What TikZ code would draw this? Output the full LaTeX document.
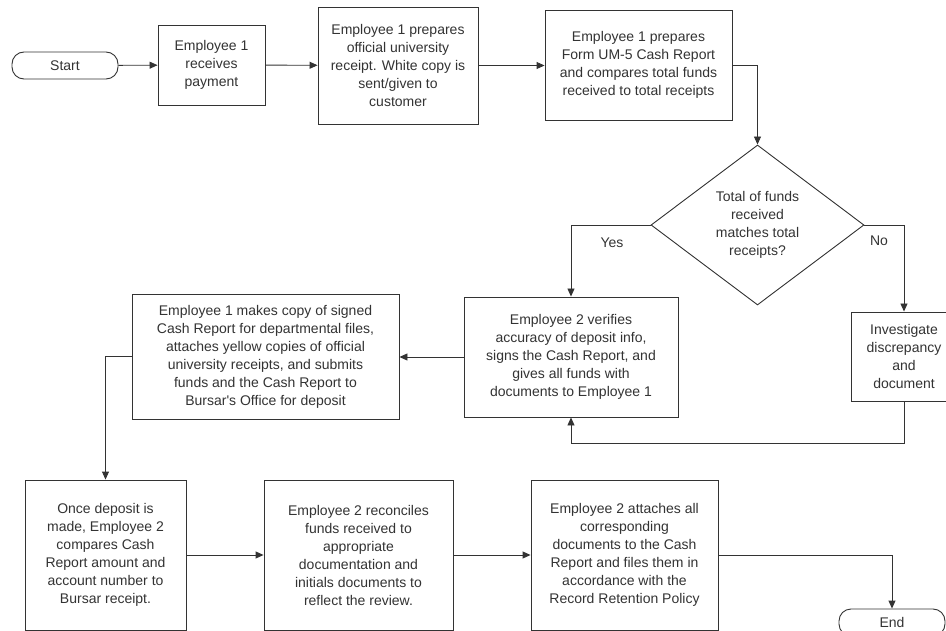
\documentclass[tikz,border=0pt]{standalone}
\usepackage{fontspec}
\setmainfont{Liberation Sans}
\usepackage{xcolor}
\usepackage{tikz}
\usetikzlibrary{arrows.meta,positioning,shapes.geometric}
\definecolor{inkgray}{HTML}{333333}

\begin{document}
\begin{tikzpicture}[
  x=1pt,y=-1pt,
  every node/.style={font=\fontsize{14}{18}\selectfont,text=inkgray,align=center,inner sep=0pt},
  stepbox/.style={rectangle,draw=inkgray,line width=0.9pt,fill=white},
  term/.style={rectangle,rounded corners=12pt,draw=inkgray,line width=0.9pt,minimum width=106pt,minimum height=27pt},
  decide/.style={diamond,draw=inkgray,line width=0.9pt,minimum width=213pt,minimum height=160pt,inner sep=0pt},
  arr/.style={-{Triangle[length=8pt,width=7pt]},line width=0.9pt,draw=inkgray}
]
\useasboundingbox (0,0) rectangle (946,631);
\node[term] (start) at (65,65.5) {Start};
\node[stepbox,minimum width=107pt,minimum height=80pt] (pay) at (211.5,65) {Employee 1\\receives\\payment};
\node[stepbox,minimum width=160pt,minimum height=117pt] (receipt) at (398,65.5) {Employee 1 prepares\\official university\\receipt. White copy is\\sent/given to\\customer};
\node[stepbox,minimum width=187pt,minimum height=110pt] (form) at (638.5,65) {Employee 1 prepares\\Form UM-5 Cash Report\\and compares total funds\\received to total receipts};
\node[decide] (match) at (757.5,225) {Total of funds\\received\\matches total\\receipts?};
\node[stepbox,minimum width=214pt,minimum height=120pt] (verify) at (571,357) {Employee 2 verifies\\accuracy of deposit info,\\signs the Cash Report, and\\gives all funds with\\documents to Employee 1};
\node[stepbox,minimum width=106pt,minimum height=89pt] (inv) at (904,356.5) {Investigate\\discrepancy\\and\\document};
\node[stepbox,minimum width=267pt,minimum height=125pt] (copy) at (265.5,356.5) {Employee 1 makes copy of signed\\Cash Report for departmental files,\\attaches yellow copies of official\\university receipts, and submits\\funds and the Cash Report to\\Bursar\textquotesingle s Office for deposit};
\node[stepbox,minimum width=161pt,minimum height=150pt] (deposit) at (105.5,555) {Once deposit is\\made, Employee 2\\compares Cash\\Report amount and\\account number to\\Bursar receipt.};
\node[stepbox,minimum width=189pt,minimum height=150pt] (reconcile) at (358.5,555) {Employee 2 reconciles\\funds received to\\appropriate\\documentation and\\initials documents to\\reflect the review.};
\node[stepbox,minimum width=187pt,minimum height=150pt] (attach) at (624.5,555) {Employee 2 attaches all\\corresponding\\documents to the Cash\\Report and files them in\\accordance with the\\Record Retention Policy};
\node[term] (end) at (892,622.5) {End};
\coordinate (loop) at (904,443);
% connectors
\draw[arr] (start) -- (pay);
\draw[arr] (pay) -- (receipt);
\draw[arr] (receipt.east) -- (form.west |- receipt.east);
\draw[arr] (form.east) -| (match.north);
\draw[arr] (match.west) -| (verify.north);
\node (yes) at (612,243) {Yes};
\draw[arr] (match.east) -| (inv.north);
\node (no) at (879,241) {No};
\draw[arr] (inv.south) -- (loop) -| (verify.south);
\draw[arr] (verify.west) -- (copy.east |- verify.west);
\draw[arr] (copy.west) -| (deposit.north);
\draw[arr] (deposit) -- (reconcile);
\draw[arr] (reconcile) -- (attach);
\draw[arr] (attach.east) -| (end.north);
\end{tikzpicture}
\end{document}
